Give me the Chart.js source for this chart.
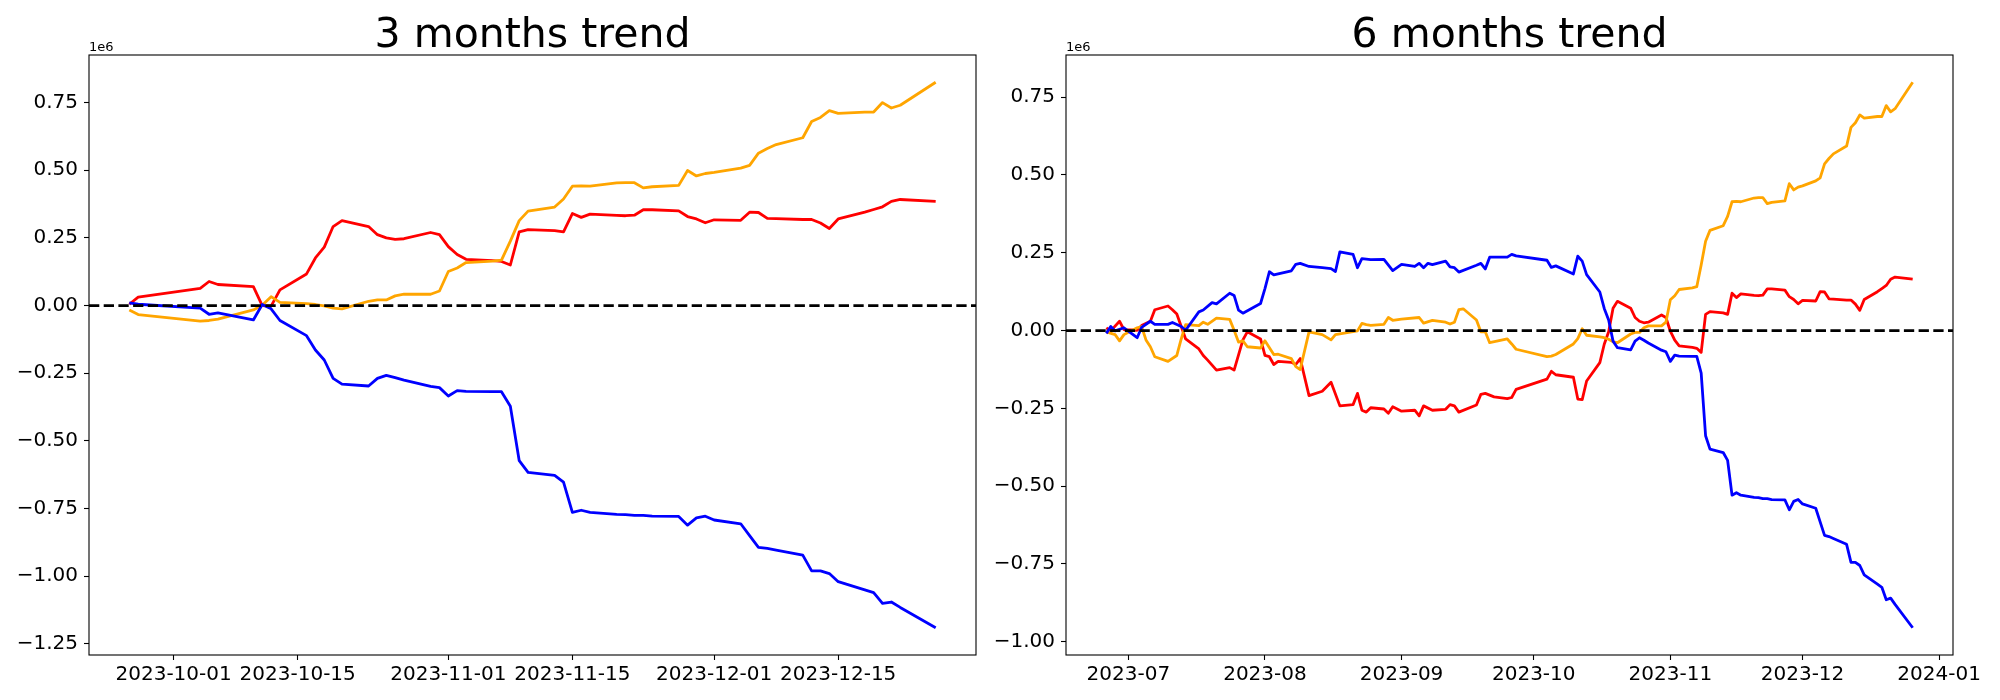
<!DOCTYPE html>
<html>
<head>
<meta charset="utf-8">
<script src="https://cdn.jsdelivr.net/npm/chart.js@4.4.0/dist/chart.umd.min.js"></script>
<style>
    html, body { margin: 0; padding: 0; background: #fff; }
    #wrap { position: relative; width: 2000px; height: 700px; }
    canvas { position: absolute; top: 0; }
</style>
</head>
<body>
<div id="wrap">
    <canvas id="left" width="980" height="700" style="left:0"></canvas>
    <canvas id="right" width="1020" height="700" style="left:980px"></canvas>
</div>
<script>
// values in millions (axis shows 1e6 offset)
const leftDates = ['2023-09-26','2023-09-27','2023-10-04','2023-10-05','2023-10-06','2023-10-10','2023-10-11','2023-10-12','2023-10-13','2023-10-16',
    '2023-10-17','2023-10-18','2023-10-19','2023-10-20','2023-10-23','2023-10-24','2023-10-25','2023-10-26','2023-10-27','2023-10-30',
    '2023-10-31','2023-11-01','2023-11-02','2023-11-03','2023-11-06','2023-11-07','2023-11-08','2023-11-09','2023-11-10','2023-11-13',
    '2023-11-14','2023-11-15','2023-11-16','2023-11-17','2023-11-20','2023-11-21','2023-11-22','2023-11-23','2023-11-24','2023-11-27',
    '2023-11-28','2023-11-29','2023-11-30','2023-12-01','2023-12-04','2023-12-05','2023-12-06','2023-12-07','2023-12-08','2023-12-11',
    '2023-12-12','2023-12-13','2023-12-14','2023-12-15','2023-12-18','2023-12-19','2023-12-20','2023-12-21','2023-12-22','2023-12-26'];
const leftRed = [0.005,0.031,0.064,0.089,0.078,0.070,0.0,-0.002,0.058,0.117,
    0.176,0.216,0.292,0.314,0.292,0.262,0.250,0.245,0.247,0.270,
    0.262,0.218,0.189,0.171,0.166,0.163,0.150,0.272,0.281,0.277,
    0.272,0.340,0.326,0.338,0.333,0.332,0.334,0.354,0.354,0.350,
    0.329,0.320,0.306,0.317,0.315,0.345,0.344,0.322,0.321,0.318,
    0.318,0.305,0.285,0.320,0.345,0.355,0.365,0.385,0.392,0.385];
const leftOrange = [-0.016,-0.033,-0.057,-0.055,-0.050,-0.016,0.001,0.033,0.012,0.007,
    0.004,-0.001,-0.009,-0.012,0.016,0.021,0.021,0.036,0.042,0.042,
    0.054,0.126,0.139,0.159,0.164,0.168,0.238,0.314,0.349,0.364,
    0.394,0.441,0.442,0.441,0.453,0.454,0.454,0.435,0.439,0.444,
    0.499,0.479,0.488,0.492,0.508,0.518,0.563,0.580,0.595,0.620,
    0.680,0.695,0.720,0.710,0.715,0.715,0.750,0.730,0.740,0.825];
const leftBlue = [0.010,0.005,-0.009,-0.032,-0.027,-0.053,0.004,-0.012,-0.055,-0.111,
    -0.164,-0.201,-0.269,-0.290,-0.297,-0.269,-0.258,-0.266,-0.275,-0.298,
    -0.303,-0.334,-0.314,-0.317,-0.318,-0.318,-0.372,-0.573,-0.616,-0.627,
    -0.652,-0.764,-0.756,-0.764,-0.771,-0.772,-0.775,-0.775,-0.778,-0.779,
    -0.811,-0.784,-0.778,-0.792,-0.806,-0.850,-0.893,-0.897,-0.903,-0.922,
    -0.980,-0.980,-0.990,-1.020,-1.050,-1.060,-1.100,-1.095,-1.115,-1.190];

// 6 months: summer part read separately per line, autumn part on the same dates as the left panel
const rightBlueEarlyDates = ['2023-06-26','2023-06-27','2023-06-28','2023-06-30','2023-07-03','2023-07-04','2023-07-06','2023-07-07','2023-07-10','2023-07-11',
    '2023-07-13','2023-07-14','2023-07-17','2023-07-18','2023-07-20','2023-07-21','2023-07-24','2023-07-25','2023-07-26','2023-07-27',
    '2023-07-31','2023-08-01','2023-08-02','2023-08-03','2023-08-07','2023-08-08','2023-08-09','2023-08-11','2023-08-14','2023-08-16',
    '2023-08-17','2023-08-18','2023-08-21','2023-08-22','2023-08-23','2023-08-25','2023-08-28','2023-08-30','2023-09-01','2023-09-04',
    '2023-09-05','2023-09-06','2023-09-07','2023-09-08','2023-09-11','2023-09-12','2023-09-13','2023-09-14','2023-09-18','2023-09-19',
    '2023-09-20','2023-09-21','2023-09-25'];
const rightBlueEarly = [-0.009,0.013,-0.001,0.009,-0.023,0.010,0.030,0.020,0.020,0.026,
    0.013,0.001,0.060,0.066,0.090,0.086,0.120,0.113,0.066,0.056,
    0.087,0.135,0.189,0.179,0.192,0.213,0.216,0.206,0.202,0.199,
    0.190,0.253,0.245,0.202,0.231,0.228,0.229,0.193,0.213,0.206,
    0.216,0.202,0.216,0.212,0.223,0.205,0.202,0.188,0.210,0.216,
    0.198,0.236,0.236];
const rightRedEarlyDates = ['2023-06-26','2023-06-27','2023-06-29','2023-06-30','2023-07-03','2023-07-04','2023-07-06','2023-07-07','2023-07-10','2023-07-11',
    '2023-07-12','2023-07-14','2023-07-17','2023-07-18','2023-07-19','2023-07-21','2023-07-24','2023-07-25','2023-07-27','2023-07-28',
    '2023-07-31','2023-08-01','2023-08-02','2023-08-03','2023-08-04','2023-08-07','2023-08-08','2023-08-09','2023-08-11','2023-08-14',
    '2023-08-16','2023-08-18','2023-08-21','2023-08-22','2023-08-23','2023-08-24','2023-08-25','2023-08-28','2023-08-29','2023-08-30',
    '2023-09-01','2023-09-04','2023-09-05','2023-09-06','2023-09-08','2023-09-11','2023-09-12','2023-09-13','2023-09-14','2023-09-18',
    '2023-09-19','2023-09-20','2023-09-22','2023-09-25'];
const rightRedEarly = [0.009,-0.001,0.030,0.003,0.001,0.016,0.030,0.067,0.079,0.067,
    0.053,-0.027,-0.059,-0.080,-0.095,-0.127,-0.119,-0.127,-0.030,-0.004,
    -0.027,-0.080,-0.084,-0.109,-0.099,-0.102,-0.109,-0.090,-0.209,-0.195,
    -0.166,-0.242,-0.238,-0.202,-0.256,-0.262,-0.248,-0.252,-0.266,-0.245,
    -0.259,-0.256,-0.274,-0.242,-0.256,-0.253,-0.238,-0.242,-0.262,-0.239,
    -0.205,-0.202,-0.213,-0.219];
const rightOrangeEarlyDates = ['2023-06-26','2023-06-28','2023-06-29','2023-06-30','2023-07-03','2023-07-04','2023-07-05','2023-07-06','2023-07-07','2023-07-10',
    '2023-07-12','2023-07-13','2023-07-14','2023-07-17','2023-07-18','2023-07-19','2023-07-21','2023-07-24','2023-07-25','2023-07-26',
    '2023-07-27','2023-07-28','2023-07-31','2023-08-01','2023-08-03','2023-08-04','2023-08-07','2023-08-08','2023-08-09','2023-08-11',
    '2023-08-14','2023-08-16','2023-08-17','2023-08-22','2023-08-23','2023-08-24','2023-08-25','2023-08-28','2023-08-29','2023-08-30',
    '2023-09-01','2023-09-05','2023-09-06','2023-09-08','2023-09-11','2023-09-12','2023-09-13','2023-09-14','2023-09-15','2023-09-18',
    '2023-09-19','2023-09-20','2023-09-21','2023-09-25'];
const rightOrangeEarly = [-0.004,-0.013,-0.033,-0.013,0.009,0.013,-0.030,-0.052,-0.084,-0.099,
    -0.080,-0.027,0.019,0.016,0.027,0.020,0.040,0.036,0.001,-0.037,
    -0.033,-0.052,-0.056,-0.033,-0.077,-0.076,-0.090,-0.116,-0.125,-0.004,
    -0.013,-0.030,-0.013,-0.001,0.023,0.019,0.017,0.020,0.042,0.033,
    0.037,0.042,0.024,0.033,0.027,0.021,0.027,0.067,0.070,0.034,
    -0.004,-0.004,-0.039,-0.027];
const rightBlueLate = [0.245,0.240,0.226,0.203,0.208,0.182,0.239,0.223,0.180,0.124,
    0.071,0.034,-0.034,-0.055,-0.062,-0.034,-0.023,-0.031,-0.040,-0.063,
    -0.068,-0.099,-0.079,-0.082,-0.083,-0.083,-0.137,-0.338,-0.381,-0.392,
    -0.417,-0.529,-0.521,-0.529,-0.536,-0.537,-0.540,-0.540,-0.543,-0.544,
    -0.576,-0.549,-0.543,-0.557,-0.571,-0.615,-0.658,-0.662,-0.668,-0.687,
    -0.745,-0.745,-0.755,-0.785,-0.815,-0.825,-0.865,-0.860,-0.880,-0.955];
const rightRedLate = [-0.215,-0.189,-0.156,-0.131,-0.142,-0.150,-0.220,-0.222,-0.162,-0.103,
    -0.044,-0.004,0.072,0.094,0.072,0.042,0.030,0.025,0.027,0.050,
    0.042,-0.002,-0.031,-0.049,-0.054,-0.057,-0.070,0.052,0.061,0.057,
    0.052,0.120,0.106,0.118,0.113,0.112,0.114,0.134,0.134,0.130,
    0.109,0.100,0.086,0.097,0.095,0.125,0.124,0.102,0.101,0.098,
    0.098,0.085,0.065,0.100,0.125,0.135,0.145,0.165,0.172,0.165];
const rightOrangeLate = [-0.043,-0.060,-0.084,-0.082,-0.077,-0.043,-0.026,0.006,-0.015,-0.020,
    -0.023,-0.028,-0.036,-0.039,-0.011,-0.006,-0.006,0.009,0.015,0.015,
    0.027,0.099,0.112,0.132,0.137,0.141,0.211,0.287,0.322,0.337,
    0.367,0.414,0.415,0.414,0.426,0.427,0.427,0.408,0.412,0.417,
    0.472,0.452,0.461,0.465,0.481,0.491,0.536,0.553,0.568,0.593,
    0.653,0.668,0.693,0.683,0.688,0.688,0.723,0.703,0.713,0.798];

const leftXTicks = ['2023-10-01','2023-10-15','2023-11-01','2023-11-15','2023-12-01','2023-12-15'];
const rightXTicks = ['2023-07','2023-08','2023-09','2023-10','2023-11','2023-12','2024-01'];
const leftYTicks = [-1.25,-1.0,-0.75,-0.5,-0.25,0,0.25,0.5,0.75];
const rightYTicks = [-1.0,-0.75,-0.5,-0.25,0,0.25,0.5,0.75];

const M = 1e6;
const DAY = 86400000;
const FONT = 'DejaVu Sans';

function toDay(s) {
    const p = s.split('-').map(Number);
    return Date.UTC(p[0], p[1] - 1, p[2] || 1) / DAY;
}

function points(dates, values) {
    return dates.map((d, i) => ({ x: toDay(d), y: values[i] * M }));
}

function fmtY(v) {
    const s = Math.abs(v / M).toFixed(2);
    return v < -1 ? "\u2212" + s : s;
}

// matplotlib style: full box, title, offset text
const framePlugin = {
    id: "frame",
    afterDraw(chart, args, opts) {
        const { ctx, chartArea: a } = chart;
        ctx.save();
        ctx.strokeStyle = "#000";
        ctx.lineWidth = 1.1;
        ctx.strokeRect(a.left, a.top, a.right - a.left, a.bottom - a.top);
        ctx.fillStyle = "#000";
        ctx.textBaseline = "alphabetic";
        ctx.font = `41px "${FONT}"`;
        ctx.textAlign = "center";
        ctx.fillText(opts.title, (a.left + a.right) / 2, a.top - 8.5);
        ctx.font = `13px "${FONT}"`;
        ctx.textAlign = "left";
        ctx.fillText("1e6", a.left, a.top - 4);
        ctx.restore();
    }
};

function line(label, data, color) {
    return {
        label, data,
        borderColor: color,
        borderWidth: 2.8,
        pointRadius: 0,
        tension: 0,
        borderJoinStyle: "round",
        fill: false
    };
}

function makeChart(id, cfg) {
    const all = cfg.datasets.flatMap(d => d.data);
    const xs = all.map(p => p.x), ys = all.map(p => p.y);
    const x0 = Math.min(...xs), x1 = Math.max(...xs);
    const y0 = Math.min(...ys), y1 = Math.max(...ys);
    const xMin = x0 - 0.05 * (x1 - x0), xMax = x1 + 0.05 * (x1 - x0);
    const yMin = y0 - 0.05 * (y1 - y0), yMax = y1 + 0.05 * (y1 - y0);

    const zero = {
        label: "zero",
        data: [{ x: xMin, y: 0 }, { x: xMax, y: 0 }],
        borderColor: "#000",
        borderWidth: 2.8,
        borderDash: [10.3, 4.4],
        pointRadius: 0,
        order: -1
    };

    const xTickVals = cfg.xTicks.map(toDay);
    const axisGrid = {
        display: true,
        drawOnChartArea: false,
        drawTicks: true,
        tickLength: 5,
        tickColor: "#000",
        tickWidth: 1.1
    };

    return new Chart(document.getElementById(id), {
        type: "line",
        data: { datasets: [zero, ...cfg.datasets] },
        plugins: [framePlugin],
        options: {
            responsive: false,
            animation: false,
            devicePixelRatio: 1,
            layout: { autoPadding: false, padding: { top: 55, right: cfg.padRight, left: 0, bottom: 0 } },
            plugins: {
                legend: { display: false },
                tooltip: { enabled: false },
                frame: { title: cfg.title }
            },
            scales: {
                x: {
                    type: "linear",
                    min: xMin,
                    max: xMax,
                    afterBuildTicks: s => { s.ticks = xTickVals.map(v => ({ value: v })); },
                    afterFit: s => { s.height = 45; },
                    ticks: {
                        autoSkip: false,
                        maxRotation: 0,
                        padding: 3,
                        color: "#000",
                        font: { family: FONT, size: 20 },
                        callback: (v, i) => cfg.xTicks[i]
                    },
                    grid: axisGrid,
                    border: { display: false }
                },
                y: {
                    type: "linear",
                    min: yMin,
                    max: yMax,
                    afterBuildTicks: s => { s.ticks = cfg.yTicks.map(v => ({ value: v * M })); },
                    afterFit: s => { s.width = cfg.yWidth; },
                    ticks: {
                        padding: 6,
                        color: "#000",
                        font: { family: FONT, size: 20 },
                        callback: v => fmtY(v)
                    },
                    grid: axisGrid,
                    border: { display: false }
                }
            }
        }
    });
}

makeChart("left", {
    title: "3 months trend",
    xTicks: leftXTicks,
    yTicks: leftYTicks,
    yWidth: 89,
    padRight: 4,
    datasets: [
        line("blue", points(leftDates, leftBlue), "#0000ff"),
        line("orange", points(leftDates, leftOrange), "#ffa500"),
        line("red", points(leftDates, leftRed), "#ff0000")
    ]
});

makeChart("right", {
    title: "6 months trend",
    xTicks: rightXTicks,
    yTicks: rightYTicks,
    yWidth: 86,
    padRight: 47,
    datasets: [
        line("blue", points(rightBlueEarlyDates.concat(leftDates), rightBlueEarly.concat(rightBlueLate)), "#0000ff"),
        line("orange", points(rightOrangeEarlyDates.concat(leftDates), rightOrangeEarly.concat(rightOrangeLate)), "#ffa500"),
        line("red", points(rightRedEarlyDates.concat(leftDates), rightRedEarly.concat(rightRedLate)), "#ff0000")
    ]
});
</script>
</body>
</html>
